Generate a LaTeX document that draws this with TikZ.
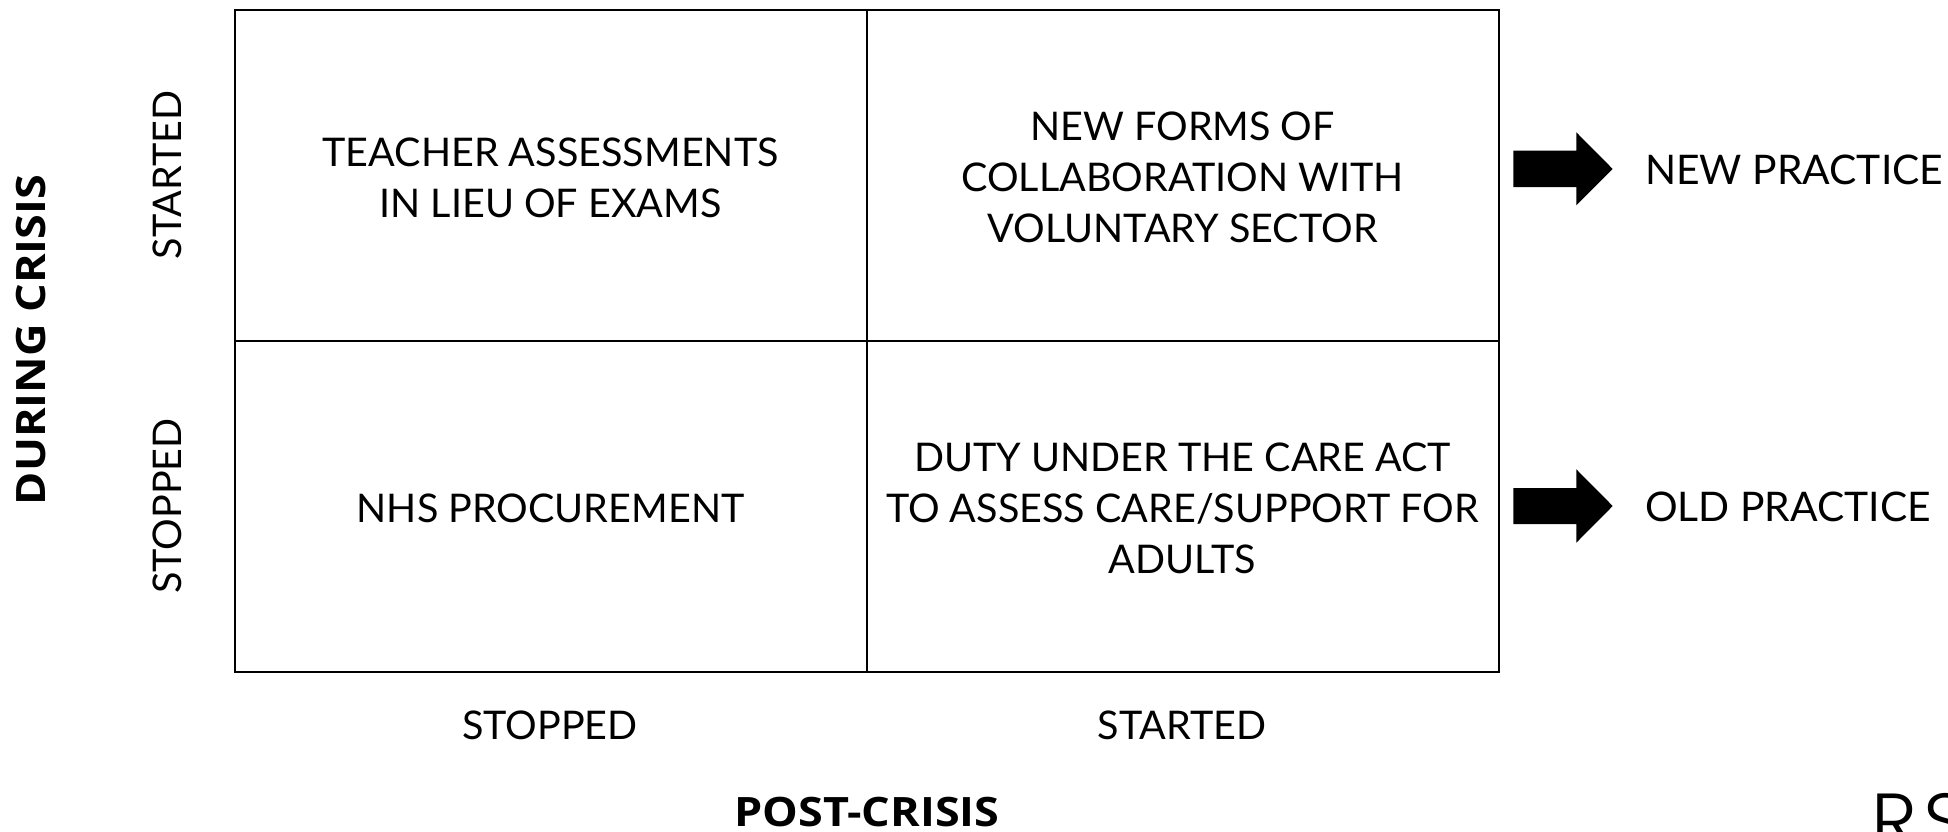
\documentclass[tikz,border=0pt]{standalone}
\usepackage{fontspec}
\setmainfont{Lato}
\newfontfamily\boldsans[FakeStretch=1.11]{Open Sans}
\newfontfamily\logofont[LetterSpace=8]{Poppins Light}
\tikzset{
 lab/.style={font=\fontsize{39.5}{51}\selectfont,align=center,inner sep=0pt},
 sidelab/.style={lab,font=\fontsize{40.8}{51}\selectfont},
 axis/.style={font=\boldsans\bfseries\fontsize{40.5}{50}\selectfont,inner sep=0pt},
 cell/.style={draw=black,line width=2pt,minimum width=632pt,minimum height=331pt,inner sep=0pt,outer sep=0pt,anchor=north west},
 bigarrow/.style={draw=none,fill=black}
}
\begin{document}
\begin{tikzpicture}[x=1pt,y=-1pt]
\useasboundingbox (0,0) rectangle (1948,832);
\node[cell] (a) at (234.5,10) {};
\node[cell] (b) at (866.5,10) {};
\node[cell] (c) at (234.5,340.5) {};
\node[cell] (d) at (866.5,340.5) {};
\node[lab,yshift=-2pt] at (a.center) {TEACHER ASSESSMENTS\\IN LIEU OF EXAMS};
\node[lab,yshift=-2pt] at (b.center) {NEW FORMS OF\\COLLABORATION WITH\\VOLUNTARY SECTOR};
\node[lab,yshift=-2pt] at (c.center) {NHS PROCUREMENT};
\node[lab,yshift=-2pt] at (d.center) {DUTY UNDER THE CARE ACT\\TO ASSESS CARE/SUPPORT FOR\\ADULTS};
\node[lab,rotate=90] (s1) at (167,175) {STARTED};
\node[lab,rotate=90] (s2) at (167,506) {STOPPED};
\node[lab] (x1) at (550,725) {STOPPED};
\node[lab] (x2) at (1182,725) {STARTED};
\node[axis,rotate=90] (yl) at (31,340) {DURING CRISIS};
\node[axis] (xl) at (867,812.5) {POST-CRISIS};
\fill[bigarrow] (1513.3,150.7)--(1576.3,150.7)--(1576.3,132.3)--(1612.7,169)--(1576.3,205.3)--(1576.3,187)--(1513.3,187)--cycle;
\fill[bigarrow] (1513.3,488)--(1576.3,488)--(1576.3,469.3)--(1612.7,506)--(1576.3,542.7)--(1576.3,524)--(1513.3,524)--cycle;
\node[sidelab,anchor=west] (n) at (1645,170) {NEW PRACTICE};
\node[sidelab,anchor=west] (o) at (1645,507) {OLD PRACTICE};
\node[font=\logofont\fontsize{78}{78}\selectfont,inner sep=0pt,anchor=base west] (logo) at (1871,848) {RS};
\end{tikzpicture}
\end{document}
